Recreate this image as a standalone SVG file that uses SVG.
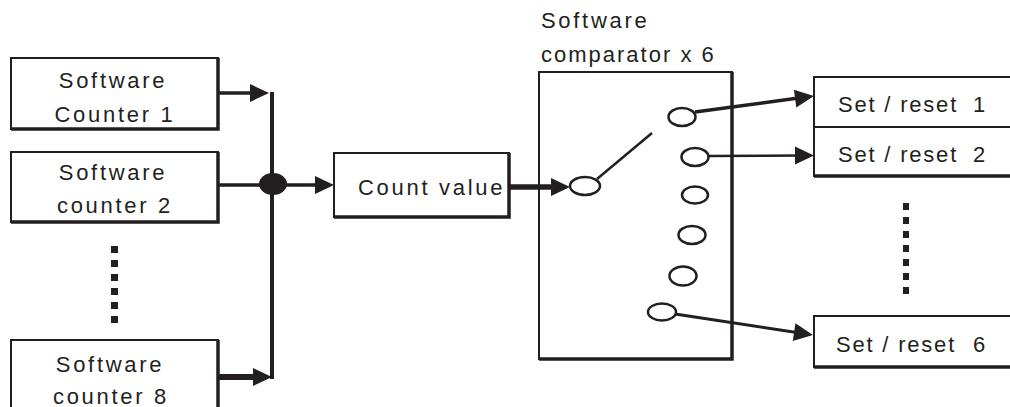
<svg xmlns="http://www.w3.org/2000/svg" width="1010" height="407" viewBox="0 0 1010 407">
<style>
text{font-family:"Liberation Sans",Arial,sans-serif;font-size:22px;fill:#231f20;letter-spacing:2.7px}
.sr{letter-spacing:1.8px}
.box{fill:#fff;stroke:#231f20;stroke-width:2}
.sh{fill:none;stroke:#231f20;stroke-width:3.5}
.ln{fill:none;stroke:#231f20}
.ov{fill:#fff;stroke:#231f20;stroke-width:2.5}
.dots{stroke:#231f20;stroke-dasharray:7 7}
</style>
<defs>
<marker id="ah" markerUnits="userSpaceOnUse" markerWidth="20" markerHeight="18" refX="11" refY="9" orient="auto" overflow="visible">
<path d="M0,0 L19,9 L0,18 z" fill="#231f20"/>
</marker>
</defs>
<rect width="1010" height="407" fill="#fff"/>

<g id="counter1">
<rect class="box" x="11" y="58" width="207" height="71"/>
<path class="sh" d="M218,58 V129 H11"/>
<text x="113" y="88" text-anchor="middle">Software</text>
<text x="115" y="122" text-anchor="middle">Counter 1</text>
</g>
<g id="counter2">
<rect class="box" x="11" y="152" width="207" height="70"/>
<path class="sh" d="M218,152 V222 H11"/>
<text x="113" y="180" text-anchor="middle">Software</text>
<text x="115" y="213" text-anchor="middle">counter 2</text>
</g>
<g id="counter8">
<rect class="box" x="11" y="340" width="207" height="80"/>
<path class="sh" d="M218,340 V420"/>
<text x="110" y="372" text-anchor="middle">Software</text>
<text x="111" y="404" text-anchor="middle">counter 8</text>
</g>
<g id="dots-left">
<line class="dots" x1="114.5" y1="246" x2="114.5" y2="323" stroke-width="7"/>
</g>

<g id="count-value">
<rect class="box" x="334" y="153" width="175" height="64"/>
<path class="sh" d="M509,153 V217 H334"/>
<text x="358" y="195">Count value</text>
</g>

<g id="comparator">
<text x="541" y="28">Software</text>
<text x="541" y="62" style="letter-spacing:2px">comparator x 6</text>
<rect class="box" x="539" y="72" width="193" height="287"/>
<path class="sh" d="M732,72 V359 H539"/>
<ellipse class="ov" cx="585" cy="186" rx="15" ry="9"/>
<line class="ln" x1="597" y1="179" x2="652" y2="133" stroke-width="2.5"/>
<ellipse class="ov" cx="682" cy="117" rx="13.5" ry="9"/>
<ellipse class="ov" cx="695" cy="157" rx="13.5" ry="9"/>
<ellipse class="ov" cx="695" cy="195" rx="13" ry="8.5"/>
<ellipse class="ov" cx="692" cy="235" rx="13.5" ry="9"/>
<ellipse class="ov" cx="683" cy="276" rx="13.5" ry="9.5"/>
<ellipse class="ov" cx="662" cy="312" rx="14" ry="8.5"/>
</g>

<g id="set-reset-1">
<rect class="box" x="814" y="77" width="200" height="50"/>
<text class="sr" x="838" y="112">Set / reset<tspan x="973">1</tspan></text>
</g>
<g id="set-reset-2">
<rect class="box" x="814" y="127" width="200" height="49"/>
<path class="sh" d="M814,176 H1014"/>
<text class="sr" x="838" y="162">Set / reset<tspan x="973">2</tspan></text>
</g>
<g id="dots-right">
<line class="dots" x1="906" y1="203" x2="906" y2="295" stroke-width="6"/>
</g>
<g id="set-reset-6">
<rect class="box" x="814" y="316" width="200" height="51"/>
<path class="sh" d="M814,367 H1014"/>
<text class="sr" x="836" y="352">Set / reset<tspan x="973">6</tspan></text>
</g>

<g id="connectors">
<line class="ln" x1="272" y1="92" x2="272" y2="379" stroke-width="4"/>
<line class="ln" x1="218" y1="93" x2="261" y2="93" stroke-width="3.5" marker-end="url(#ah)"/>
<line class="ln" x1="218" y1="185" x2="262" y2="185" stroke-width="3.5"/>
<ellipse cx="273" cy="184" rx="14" ry="11" fill="#231f20"/>
<line class="ln" x1="286" y1="185" x2="326" y2="185" stroke-width="3.5" marker-end="url(#ah)"/>
<line class="ln" x1="218" y1="377" x2="264" y2="377" stroke-width="6" marker-end="url(#ah)"/>
<line class="ln" x1="509" y1="187" x2="562" y2="187" stroke-width="5.5" marker-end="url(#ah)"/>
<line class="ln" x1="695" y1="112" x2="806" y2="97.1" stroke-width="3.5" marker-end="url(#ah)"/>
<line class="ln" x1="708" y1="156" x2="806" y2="155.5" stroke-width="2.5" marker-end="url(#ah)"/>
<line class="ln" x1="675" y1="314" x2="805" y2="333.8" stroke-width="3" marker-end="url(#ah)"/>
</g>
</svg>
